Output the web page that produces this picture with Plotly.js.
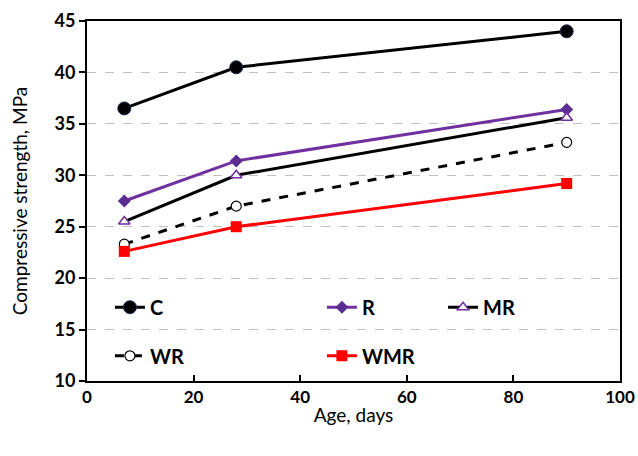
<!DOCTYPE html>
<html>
<head>
<meta charset="utf-8">
<script src="https://cdn.plot.ly/plotly-3.0.1.min.js"></script>
<style>html,body{margin:0;padding:0;background:#fff}#chart{width:638px;height:456px}</style>
</head>
<body>
<div id="chart"></div>
<script>
var ages = [7, 28, 90];
var seriesNames = ['C', 'R', 'MR', 'WR', 'WMR'];
var valuesC = [36.5, 40.5, 44.0];
var valuesR = [27.5, 31.4, 36.4];
var valuesMR = [25.5, 30.0, 35.6];
var valuesWR = [23.3, 27.0, 33.2];
var valuesWMR = [22.6, 25.0, 29.2];
var xTicks = [0, 20, 40, 60, 80, 100];
var yTicks = [10, 15, 20, 25, 30, 35, 40, 45];

var traces = [
  {x: ages, y: valuesC, name: seriesNames[0], mode: 'lines+markers', legend: 'legend',
   line: {color: '#000000', width: 3},
   marker: {symbol: 'circle', size: 13, color: '#000000', line: {color: '#1f2a5a', width: 1}}},
  {x: ages, y: valuesR, name: seriesNames[1], mode: 'lines+markers', legend: 'legend',
   line: {color: '#7030a0', width: 3},
   marker: {symbol: 'diamond', size: 10, color: '#5b2d90'}},
  {x: ages, y: valuesMR, name: seriesNames[2], mode: 'lines+markers', legend: 'legend3',
   line: {color: '#000000', width: 3},
   marker: {symbol: 'triangle-up', size: 10, color: '#ffffff', line: {color: '#7030a0', width: 1.5}}},
  {x: ages, y: valuesWR, name: seriesNames[3], mode: 'lines+markers', legend: 'legend2',
   line: {color: '#000000', width: 3, dash: 'dash'},
   marker: {symbol: 'circle', size: 10, color: '#ffffff', line: {color: '#000000', width: 1.2}}},
  {x: ages, y: valuesWMR, name: seriesNames[4], mode: 'lines+markers', legend: 'legend2',
   line: {color: '#ff0000', width: 3},
   marker: {symbol: 'square', size: 11, color: '#ff0000'}}
];

var legendFont = {family: 'Lato, "Open Sans", sans-serif', size: 20, color: '#000', weight: 'bold'};
function mkLegend(x, y, w) {
  return {orientation: 'h', x: x, xanchor: 'left', y: y, yanchor: 'middle',
          entrywidth: w, entrywidthmode: 'pixels', bgcolor: 'rgba(0,0,0,0)', font: legendFont};
}

var layout = {
  width: 638, height: 456,
  margin: {l: 87, r: 18, t: 21, b: 75},
  paper_bgcolor: '#fff', plot_bgcolor: '#fff',
  showlegend: true,
  legend: mkLegend(0.043, 0.205, 167),
  legend2: mkLegend(0.043, 0.07, 167),
  legend3: mkLegend(0.668, 0.205, 90),
  xaxis: {
    range: [0, 100], tickvals: xTicks, ticktext: xTicks.map(String),
    showgrid: false, zeroline: false,
    showline: true, linecolor: '#000', linewidth: 2, mirror: true,
    ticks: 'inside', ticklen: 6, tickwidth: 2, tickcolor: '#000',
    tickfont: {family: 'Lato, "Open Sans", sans-serif', size: 17, color: '#000', weight: 'bold'},
    title: {text: 'Age, days', font: {family: 'Lato, "Open Sans", sans-serif', size: 19, color: '#000'}, standoff: 2}
  },
  yaxis: {
    range: [10, 45], tickvals: yTicks, ticktext: yTicks.map(String),
    showgrid: true, gridcolor: '#c0c0c0', gridwidth: 1, griddash: 'dash', zeroline: false,
    showline: true, linecolor: '#000', linewidth: 2, mirror: true,
    ticks: 'outside', ticklen: 6, tickwidth: 2, tickcolor: '#000',
    tickfont: {family: 'Lato, "Open Sans", sans-serif', size: 18, color: '#000', weight: 'bold'},
    title: {text: 'Compressive strength, MPa', font: {family: 'Lato, "Open Sans", sans-serif', size: 19, color: '#000'}, standoff: 22}
  }
};

Plotly.newPlot('chart', traces, layout, {displayModeBar: false, staticPlot: true});
</script>
</body>
</html>
